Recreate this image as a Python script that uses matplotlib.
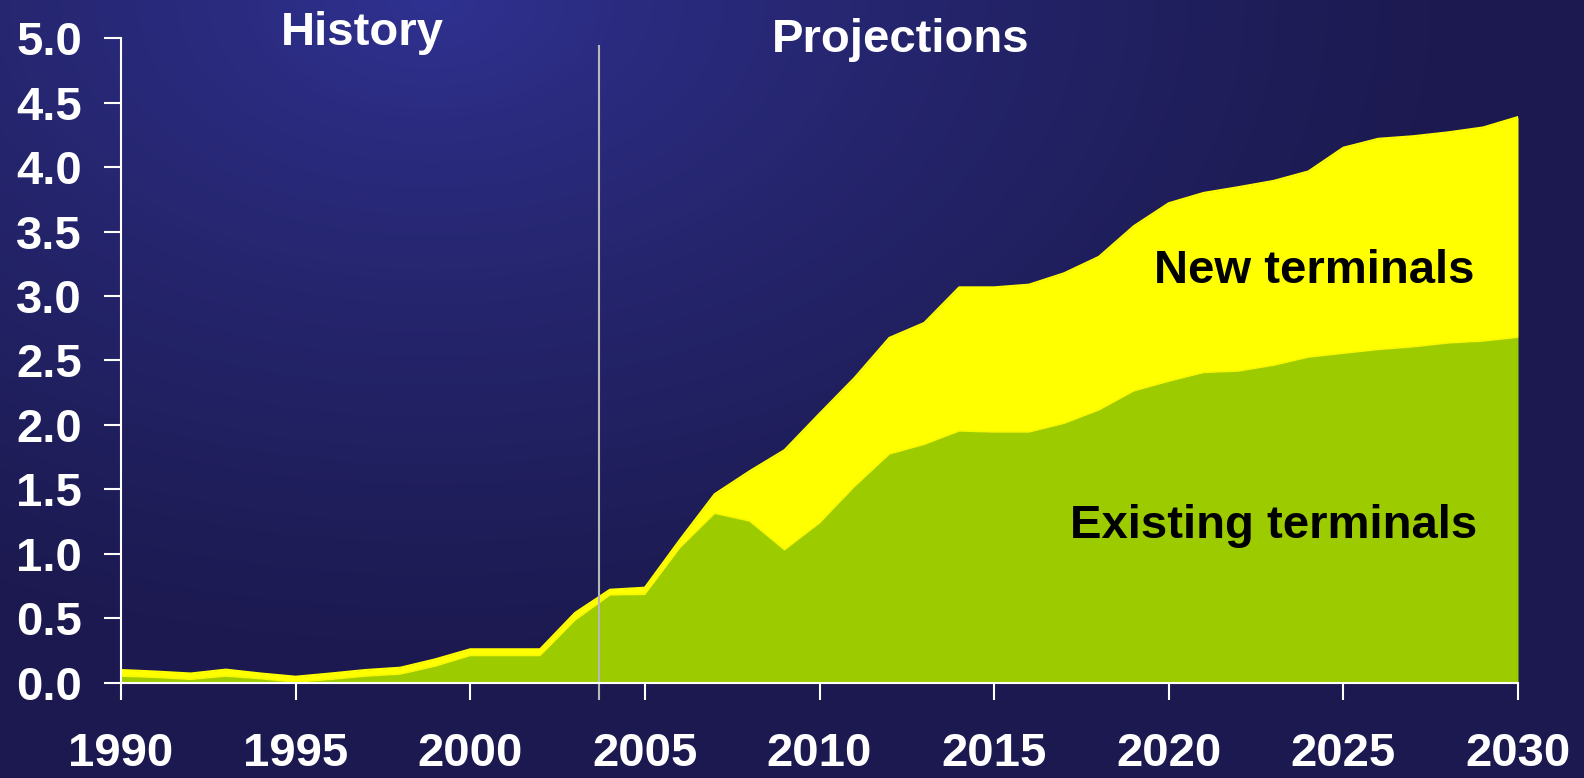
import numpy as np
import matplotlib
matplotlib.use("Agg")
import matplotlib.pyplot as plt

years = list(range(1990, 2031))
existing = [0.050, 0.040, 0.025, 0.050, 0.030, 0.003, 0.025, 0.050, 0.066, 0.128,
            0.210, 0.210, 0.210, 0.485, 0.680, 0.685, 1.046, 1.314, 1.254, 1.031,
            1.239, 1.522, 1.774, 1.849, 1.953, 1.945, 1.945, 2.012, 2.116, 2.264,
            2.339, 2.407, 2.418, 2.463, 2.526, 2.556, 2.585, 2.606, 2.636, 2.651,
            2.680]
new_terminals = [0.047, 0.045, 0.045, 0.050, 0.040, 0.042, 0.045, 0.047, 0.049, 0.052,
                 0.048, 0.048, 0.048, 0.055, 0.040, 0.051, 0.060, 0.148, 0.386, 0.773,
                 0.847, 0.841, 0.901, 0.942, 1.114, 1.122, 1.143, 1.164, 1.188, 1.278,
                 1.381, 1.393, 1.427, 1.430, 1.441, 1.595, 1.635, 1.634, 1.634, 1.657,
                 1.709]
y_ticks = [0.0, 0.5, 1.0, 1.5, 2.0, 2.5, 3.0, 3.5, 4.0, 4.5, 5.0]
x_ticks = [1990, 1995, 2000, 2005, 2010, 2015, 2020, 2025, 2030]
divider_year = 2003.7

W, H = 1584, 778
fig = plt.figure(figsize=(W / 100, H / 100), dpi=100)

# background gradient
bg = fig.add_axes([0, 0, 1, 1], zorder=0)
bg.axis("off")
yy, xx = np.mgrid[0:H, 0:W]
d = np.sqrt(((xx - 430) / 1000.0) ** 2 + ((yy - 0) / 640.0) ** 2)
d = np.clip(d, 0, 1) ** 0.8
light = np.array([0x30, 0x32, 0x92]) / 255.0
dark = np.array([0x1c, 0x1a, 0x50]) / 255.0
img = light[None, None, :] * (1 - d[..., None]) + dark[None, None, :] * d[..., None]
bg.imshow(img, aspect="auto", extent=[0, 1, 0, 1])

ax = fig.add_axes([121 / W, 95.5 / H, (1518 - 121) / W, (682.5 - 38.3) / H], zorder=1)
ax.set_facecolor("none")

green = "#9ccb00"
yellow = "#ffff00"
ex = np.array(existing)
nw = np.array(new_terminals)
ax.fill_between(years, 0, ex, color=green, lw=0, zorder=2)
ax.fill_between(years, ex, ex + nw, color=yellow, lw=0, zorder=2)
ax.plot(years, ex + nw, color=yellow, lw=1.5, zorder=3, solid_joinstyle="round")
ax.plot(years, ex, color="#f4f800", lw=1.2, zorder=3)

ax.plot([divider_year, divider_year], [4.94, -0.13], color="#b8b8b8", lw=1.5,
        clip_on=False, zorder=5)

ax.set_xlim(1990, 2030)
ax.set_ylim(0, 5.0)
ax.set_xticks(x_ticks)
ax.set_yticks(y_ticks)
ax.set_xticklabels([str(t) for t in x_ticks])
ax.set_yticklabels([f"{t:.1f}" for t in y_ticks])

for s in ["top", "right"]:
    ax.spines[s].set_visible(False)
for s in ["left", "bottom"]:
    ax.spines[s].set_color("white")
    ax.spines[s].set_linewidth(1.5)
    ax.spines[s].set_zorder(6)

font = "Liberation Sans"
ax.tick_params(axis="both", direction="out", length=12, width=1.5, color="white",
               labelcolor="white")
ax.tick_params(axis="x", pad=24)
ax.tick_params(axis="y", pad=16)
for lab in ax.get_xticklabels() + ax.get_yticklabels():
    lab.set_fontfamily(font)
    lab.set_fontweight("bold")
    lab.set_fontsize(34)

def ftext(x, y, s, color, ha="center"):
    fig.text(x / W, 1 - y / H, s, ha=ha, va="baseline", color=color,
             fontsize=34, fontweight="bold", fontfamily=font, zorder=10)

ftext(362, 45, "History", "white")
ftext(901, 51.5, "Projections", "white")
ftext(1314, 283, "New terminals", "black")
ftext(1274, 538, "Existing terminals", "black")

fig.savefig("out.png", dpi=100)
